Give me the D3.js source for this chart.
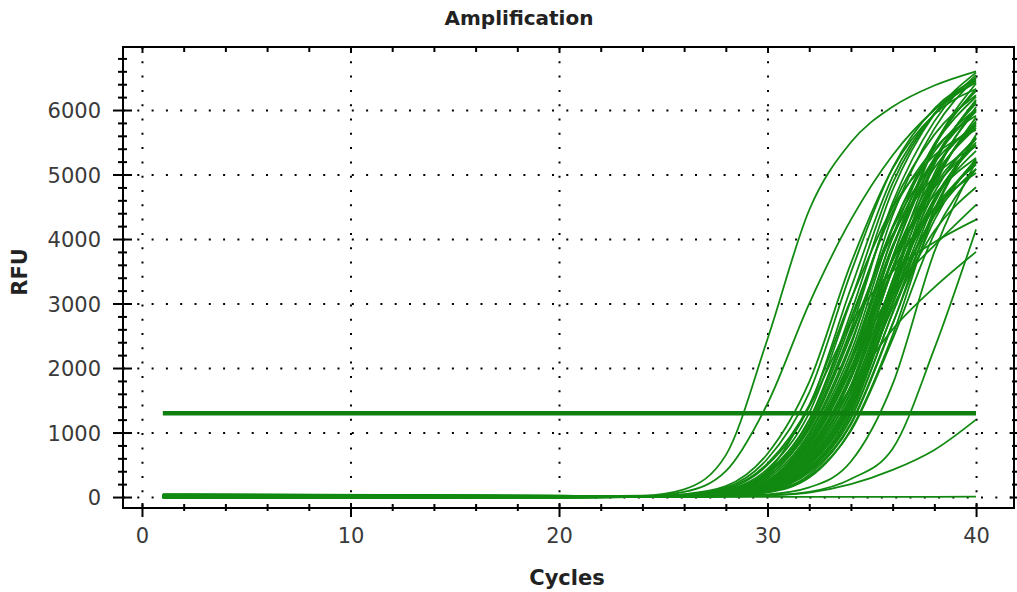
<!DOCTYPE html>
<html>
<head>
<meta charset="utf-8">
<script src="https://cdn.jsdelivr.net/npm/d3@7"></script>
<style>
  body { margin: 0; background: #fff; }
  text { font-family: "DejaVu Sans", sans-serif; }
</style>
</head>
<body>
<div id="chart"></div>
<script>
var cycles = [1, 20, 24, 26, 28, 30, 32, 34, 36, 38, 40];

// main cluster of amplification curves (RFU at each cycle above)
var bandCurves = [
  [12, 6, 12, 44, 168, 672, 1785, 3623, 5093, 5933, 6326],
  [-5, 2, 10, 33, 128, 523, 1425, 3064, 4489, 5296, 5691],
  [20, 8, 9, 30, 119, 497, 1404, 3240, 4968, 5940, 6426],
  [4, -3, 7, 25, 95, 395, 1185, 2775, 4425, 5400, 5910],
  [30, 12, 6, 23, 87, 363, 1090, 2553, 4071, 4968, 5437],
  [-8, -6, 6, 22, 85, 350, 1134, 2703, 4505, 5618, 6228],
  [15, 10, 6, 21, 78, 323, 1049, 2499, 4165, 5194, 5758],
  [2, 0, 5, 19, 69, 288, 999, 2395, 4197, 5356, 6015],
  [40, 18, 5, 16, 60, 252, 873, 2093, 3668, 4680, 5256],
  [-12, -8, 4, 16, 59, 246, 931, 2247, 4173, 5457, 6206],
  [8, 4, 4, 15, 55, 230, 870, 2100, 3900, 5100, 5800],
  [25, 14, 4, 14, 52, 216, 818, 1974, 3666, 4794, 5452],
  [0, -2, 4, 14, 50, 205, 793, 1995, 3859, 5224, 6011],
  [18, 9, 3, 13, 47, 189, 732, 1843, 3565, 4826, 5553],
  [-3, -10, 4, 14, 53, 215, 831, 2090, 4043, 5473, 6298],
  [10, 3, 3, 12, 43, 163, 653, 1734, 3519, 4947, 5763],
  [35, 20, 3, 11, 40, 152, 608, 1615, 3278, 4608, 5368],
  [5, 1, 3, 12, 45, 173, 691, 1836, 3726, 5238, 6102],
  [-10, -4, 3, 10, 38, 144, 576, 1530, 3105, 4365, 5085],
  [22, 11, 3, 10, 36, 140, 572, 1560, 3354, 4914, 5798],
  [6, 2, 2, 10, 34, 132, 539, 1470, 3161, 4631, 5464],
  [-6, -5, 3, 11, 39, 149, 605, 1650, 3548, 5198, 6133],
  [14, 7, 2, 9, 33, 126, 512, 1395, 2999, 4394, 5185],
  [28, 15, 2, 8, 30, 117, 488, 1378, 3180, 4876, 5830],
  [-2, -1, 2, 8, 28, 110, 460, 1300, 3000, 4600, 5500],
  [9, 5, 2, 8, 27, 105, 437, 1235, 2850, 4370, 5225],
  [45, 22, 2, 9, 31, 123, 515, 1456, 3360, 5152, 6160],
  [3, 2, 2, 7, 26, 98, 407, 1221, 2858, 4558, 5562],
  [-9, -7, 2, 7, 24, 92, 383, 1149, 2692, 4292, 5238],
  [16, 8, 2, 8, 27, 104, 431, 1292, 3025, 4823, 5886],
  [7, 3, 2, 6, 22, 84, 347, 1124, 2678, 4463, 5565],
  [24, 13, 2, 6, 20, 77, 317, 1027, 2448, 4080, 5088],
  [-4, -2, 2, 5, 19, 72, 302, 1048, 2511, 4401, 5616],
  [11, 6, 3, 10, 36, 136, 544, 1445, 2933, 4123, 4803],
  [33, 17, 4, 15, 58, 241, 834, 2000, 3505, 4472, 5022],
  [1, 0, 8, 28, 105, 435, 1304, 3053, 4868, 5940, 6501],
  [19, 9, 4, 17, 62, 258, 974, 2352, 4368, 5712, 6496],
  [-7, -3, 7, 24, 90, 370, 1198, 2856, 4760, 5936, 6580],
  [13, 6, 3, 12, 40, 155, 633, 1725, 3709, 5434, 6411],
  [26, 12, 11, 38, 146, 594, 1620, 3483, 5103, 6021, 6469],
  [7, 4, 3, 13, 48, 195, 755, 1900, 3675, 4975, 5725],
  [-1, -3, 3, 13, 47, 179, 717, 1904, 3864, 5432, 6328],
  [17, 9, 3, 10, 35, 135, 550, 1500, 3225, 4725, 5575],
  [4, 1, 2, 9, 31, 120, 501, 1417, 3270, 5014, 5995],
  [29, 16, 4, 15, 57, 237, 896, 2163, 4017, 5253, 5974],
  [-5, -4, 2, 8, 28, 106, 442, 1327, 3108, 4956, 6048],
  [21, 10, 3, 12, 43, 176, 680, 1710, 3308, 4478, 5153],
  [0, 1, 6, 20, 75, 314, 1086, 2604, 4564, 5824, 6541]
];

// early, flattening, late and negative wells
var otherCurves = [
  [15, 8, 20, 120, 650, 2450, 4450, 5500, 6050, 6380, 6600],
  [-6, 0, 15, 80, 400, 1450, 3000, 4300, 5300, 6000, 6450],
  [20, 10, 3, 12, 45, 190, 720, 1700, 2600, 3250, 3800],
  [5, 3, 3, 12, 45, 200, 800, 2000, 3200, 3900, 4530],
  [10, 6, 5, 20, 90, 400, 1400, 2700, 3500, 3950, 4300],
  [0, -4, 2, 6, 15, 40, 150, 550, 1750, 3800, 5200],
  [30, 14, 1, 4, 10, 25, 80, 280, 750, 2300, 4150],
  [-10, -6, 2, 5, 10, 25, 70, 200, 420, 730, 1200],
  [8, 2, 0, 0, 1, 2, 2, 3, 3, 4, 5]
];

var threshold = 1300;
var thresholdCycles = [1, 40];

var xLabels = [0, 10, 20, 30, 40];
var yLabels = [0, 1000, 2000, 3000, 4000, 5000, 6000];
var xMinor = d3.range(0, 41, 2);
var yMinor = d3.range(0, 6900, 200);

// plot frame
var frame = {left: 123, right: 1014, top: 47, bottom: 508};

var svg = d3.select("#chart")
  .append("svg")
    .attr("width", 1017)
    .attr("height", 592);

var x = d3.scaleLinear()
  .domain([-0.91, 41.82])
  .range([frame.left, frame.right]);

var y = d3.scaleLinear()
  .domain([-170, 6977])
  .range([frame.bottom, frame.top]);

// dotted grid
var gridX = svg.append("g")
  .attr("transform", "translate(0," + frame.top + ")")
  .call(d3.axisBottom(x).tickValues(xLabels).tickSize(frame.bottom - frame.top).tickFormat(""));
gridX.select(".domain").remove();
gridX.selectAll(".tick line")
  .attr("stroke", "#000")
  .attr("stroke-width", 2)
  .attr("stroke-dasharray", "2,12.3");

var gridY = svg.append("g")
  .attr("transform", "translate(" + frame.left + ",0)")
  .call(d3.axisRight(y).tickValues(yLabels).tickSize(frame.right - frame.left).tickFormat(""));
gridY.select(".domain").remove();
gridY.selectAll(".tick line")
  .attr("stroke", "#000")
  .attr("stroke-width", 2)
  .attr("stroke-dasharray", "2,12.3");

// curves
var line = d3.line()
  .x(function(d, i) { return x(cycles[i]); })
  .y(function(d) { return y(d); })
  .curve(d3.curveMonotoneX);

svg.append("g")
  .selectAll("path")
  .data(bandCurves.concat(otherCurves))
  .enter()
  .append("path")
    .attr("d", line)
    .attr("fill", "none")
    .attr("stroke", "#128a12")
    .attr("stroke-width", 1.8);

// threshold line
svg.append("line")
  .attr("x1", x(thresholdCycles[0]))
  .attr("x2", x(thresholdCycles[1]))
  .attr("y1", y(threshold))
  .attr("y2", y(threshold))
  .attr("stroke", "#0f7f0f")
  .attr("stroke-width", 4.5);

// frame
svg.append("rect")
  .attr("x", frame.left)
  .attr("y", frame.top)
  .attr("width", frame.right - frame.left)
  .attr("height", frame.bottom - frame.top)
  .attr("fill", "none")
  .attr("stroke", "#000")
  .attr("stroke-width", 2);

function isMajorX(d) { return d % 10 === 0; }
function isMajorY(d) { return d % 1000 === 0; }

// left ticks (crossing the frame)
var axL = svg.append("g")
  .attr("transform", "translate(" + frame.left + ",0)")
  .call(d3.axisLeft(y).tickValues(yMinor).tickSize(0).tickFormat(""));
axL.select(".domain").remove();
axL.selectAll(".tick line")
  .attr("x1", function(d) { return isMajorY(d) ? -10 : -5; })
  .attr("x2", function(d) { return isMajorY(d) ? 9 : 4; })
  .attr("stroke", "#000").attr("stroke-width", 2);

// right ticks
var axR = svg.append("g")
  .attr("transform", "translate(" + frame.right + ",0)")
  .call(d3.axisRight(y).tickValues(yMinor).tickSize(0).tickFormat(""));
axR.select(".domain").remove();
axR.selectAll(".tick line")
  .attr("x1", function(d) { return isMajorY(d) ? -4 : -2; })
  .attr("x2", 4)
  .attr("stroke", "#000").attr("stroke-width", 2);

// bottom ticks
var axB = svg.append("g")
  .attr("transform", "translate(0," + frame.bottom + ")")
  .call(d3.axisBottom(x).tickValues(xMinor).tickSize(0).tickFormat(""));
axB.select(".domain").remove();
axB.selectAll(".tick line")
  .attr("y1", function(d) { return isMajorX(d) ? -5 : -4; })
  .attr("y2", function(d) { return isMajorX(d) ? 9 : 3; })
  .attr("stroke", "#000").attr("stroke-width", 2);

// top ticks
var axT = svg.append("g")
  .attr("transform", "translate(0," + frame.top + ")")
  .call(d3.axisBottom(x).tickValues(xMinor).tickSize(0).tickFormat(""));
axT.select(".domain").remove();
axT.selectAll(".tick line")
  .attr("y1", 0)
  .attr("y2", function(d) { return isMajorX(d) ? 6 : 5; })
  .attr("stroke", "#000").attr("stroke-width", 2);

// tick labels
var labY = svg.append("g")
  .attr("transform", "translate(101,0)")
  .call(d3.axisLeft(y).tickValues(yLabels).tickSize(0).tickPadding(0).tickFormat(d3.format("d")));
labY.select(".domain").remove();
labY.attr("font-family", "DejaVu Sans, sans-serif").attr("font-size", 21);
labY.selectAll("text").attr("fill", "#3a3a3a").attr("dy", "0.36em");

var labX = svg.append("g")
  .attr("transform", "translate(0,528)")
  .call(d3.axisBottom(x).tickValues(xLabels).tickSize(0).tickPadding(0).tickFormat(d3.format("d")));
labX.select(".domain").remove();
labX.attr("font-family", "DejaVu Sans, sans-serif").attr("font-size", 21);
labX.selectAll("text").attr("fill", "#3a3a3a");

// titles
svg.append("text")
  .text("Amplification")
  .attr("x", 519)
  .attr("y", 25)
  .attr("text-anchor", "middle")
  .attr("font-size", 20)
  .attr("font-weight", "bold")
  .attr("fill", "#222");

svg.append("text")
  .text("Cycles")
  .attr("x", 567)
  .attr("y", 585)
  .attr("text-anchor", "middle")
  .attr("font-size", 21)
  .attr("font-weight", "bold")
  .attr("fill", "#222");

svg.append("text")
  .text("RFU")
  .attr("transform", "translate(27,272) rotate(-90)")
  .attr("text-anchor", "middle")
  .attr("font-size", 21)
  .attr("font-weight", "bold")
  .attr("fill", "#222");
</script>
</body>
</html>
